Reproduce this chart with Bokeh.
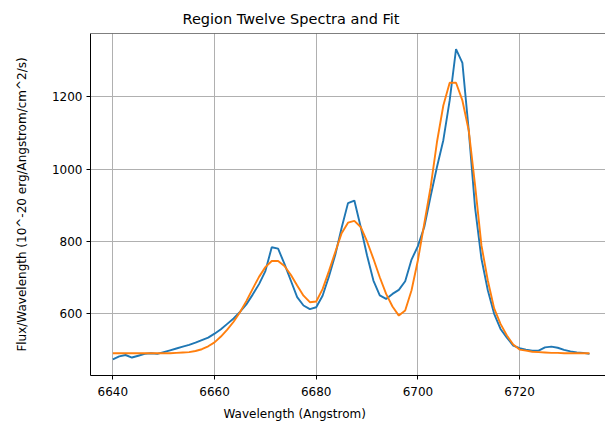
from bokeh.plotting import figure
from bokeh.models import Range1d, FixedTicker, Title, Span
from bokeh.embed import file_html
from bokeh.resources import INLINE

wavelength = [
    6640.00, 6641.25, 6642.50, 6643.75, 6645.00, 6646.25, 6647.50, 6648.75,
    6650.00, 6651.25, 6652.50, 6653.75, 6655.00, 6656.25, 6657.50, 6658.75,
    6660.00, 6661.25, 6662.50, 6663.75, 6665.00, 6666.25, 6667.50, 6668.75,
    6670.00, 6671.25, 6672.50, 6673.75, 6675.00, 6676.25, 6677.50, 6678.75,
    6680.00, 6681.25, 6682.50, 6683.75, 6685.00, 6686.25, 6687.50, 6688.75,
    6690.00, 6691.25, 6692.50, 6693.75, 6695.00, 6696.25, 6697.50, 6698.75,
    6700.00, 6701.25, 6702.50, 6703.75, 6705.00, 6706.25, 6707.50, 6708.75,
    6710.00, 6711.25, 6712.50, 6713.75, 6715.00, 6716.25, 6717.50, 6718.75,
    6720.00, 6721.25, 6722.50, 6723.75, 6725.00, 6726.25, 6727.50, 6728.75,
    6730.00, 6731.25, 6732.50, 6733.75,
]

spectrum = [
    474, 482, 486, 479, 484, 489, 491, 489,
    494, 499, 504, 509, 514, 520, 527, 534,
    545, 557, 572, 587, 605, 626, 653, 682,
    718, 784, 780, 738, 692, 646, 623, 613,
    618, 650, 703, 763, 838, 906, 913, 840,
    761, 692, 651, 641, 655, 666, 690, 750,
    787, 840, 925, 1006, 1080, 1190, 1332, 1294,
    1107, 893, 752, 665, 600, 558, 534, 512,
    505, 501, 498, 498, 507, 509, 506, 500,
    496, 493, 492, 489,
]

fit = [
    491, 491, 491, 491, 491, 491, 491, 491,
    491, 491, 492, 493, 494, 497, 502, 510,
    521, 537, 556, 578, 604, 635, 669, 702,
    729, 746, 746, 732, 708, 678, 650, 632,
    634, 668, 718, 771, 823, 852, 857, 840,
    800, 752, 701, 655, 620, 595, 609, 665,
    748, 849, 950, 1075, 1176, 1239, 1239, 1190,
    1107, 955, 789, 692, 615, 572, 540, 515,
    501, 498, 495, 494, 493, 492, 492, 491,
    491, 491, 491, 491,
]

x_ticks = [6640, 6660, 6680, 6700, 6720]
y_ticks = [600, 800, 1000, 1200]

title_text = "Region Twelve Spectra and Fit"
x_label_text = "Wavelength (Angstrom)"
y_label_text = "Flux/Wavelength (10^-20 erg/Angstrom/cm^2/s)"

FONT = "DejaVu Sans"

p = figure(
    width=605, height=429,
    x_range=Range1d(6635.6, 6736.9),
    y_range=Range1d(429.3, 1375.1),
    output_backend="svg", toolbar_location=None,
    min_border_left=90, min_border_right=0,
    min_border_top=33, min_border_bottom=54,
)
p.outline_line_color = None
p.background_fill_color = "white"
p.border_fill_color = "white"

p.add_layout(Title(text=title_text, align="left", offset=92,
                   text_font=FONT, text_font_size="14.5px", text_font_style="normal",
                   text_color="black", standoff=14), "above")

p.line(wavelength, spectrum, line_color="#1f77b4", line_width=1.9)
p.line(wavelength, fit, line_color="#ff7f0e", line_width=1.9)

p.add_layout(Span(location=1375.1, dimension="width", line_color="black", line_width=1))

for ax in (p.xaxis[0], p.yaxis[0]):
    ax.axis_line_color = "black"
    ax.axis_line_width = 1
    ax.major_tick_line_color = "black"
    ax.major_tick_line_width = 1
    ax.major_tick_in = 0
    ax.major_tick_out = 4
    ax.minor_tick_line_color = None
    ax.major_label_text_font = FONT
    ax.major_label_text_font_size = "12px"
    ax.major_label_text_color = "black"

p.xaxis.ticker = FixedTicker(ticks=x_ticks)
p.yaxis.ticker = FixedTicker(ticks=y_ticks)
p.xaxis.major_label_standoff = 7
p.yaxis.major_label_standoff = 4

p.yaxis.axis_label = y_label_text
p.yaxis.axis_label_text_font = FONT
p.yaxis.axis_label_text_font_size = "12px"
p.yaxis.axis_label_text_font_style = "normal"
p.yaxis.axis_label_text_color = "black"
p.yaxis.axis_label_standoff = 20

p.add_layout(Title(text=x_label_text, align="left", offset=133,
                   text_font=FONT, text_font_size="12px", text_font_style="normal",
                   text_color="black", standoff=13), "below")

p.xgrid.grid_line_color = "#b0b0b0"
p.ygrid.grid_line_color = "#b0b0b0"
p.xgrid.grid_line_width = 1
p.ygrid.grid_line_width = 1

open("out.html", "w").write(file_html(p, INLINE))
